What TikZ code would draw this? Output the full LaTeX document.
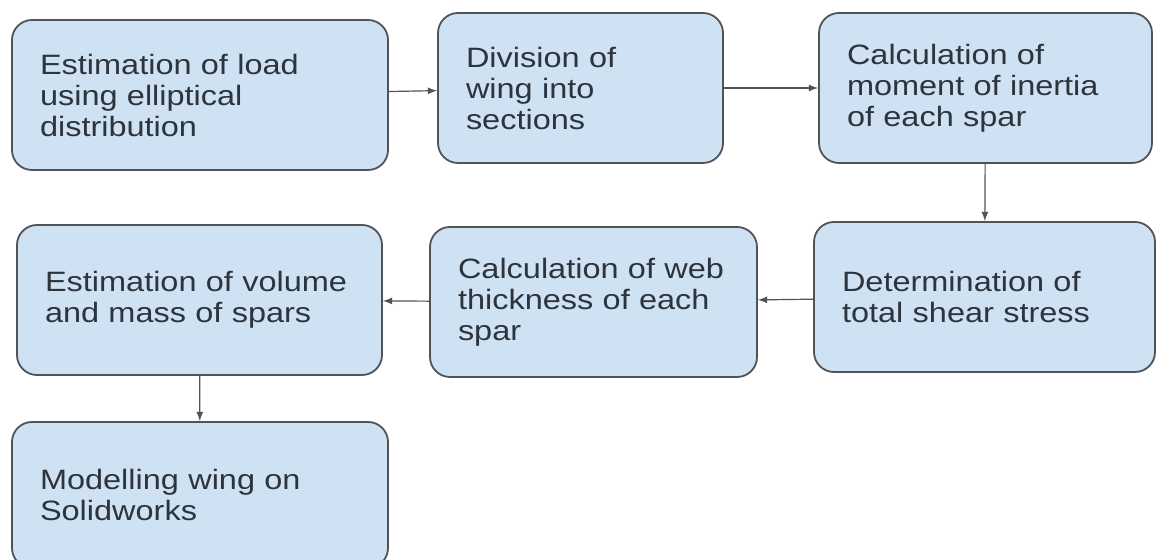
\documentclass[tikz,border=0pt]{standalone}
\usepackage{fontspec}
\usepackage{color}
\usepackage{tikz}
\usetikzlibrary{positioning}
\setmainfont{Liberation Sans}[FakeStretch=1.16]
\definecolor{boxfill}{RGB}{207,226,243}
\definecolor{boxline}{RGB}{80,84,88}
\definecolor{boxtext}{RGB}{45,52,60}

\begin{document}
\begin{tikzpicture}
    [
    x=0.5pt, y=-0.5pt,
    stepbox/.style={rectangle,rounded corners=10pt,draw=boxline,line width=0.9pt,fill=boxfill,
      text=boxtext,align=left,inner xsep=14pt,inner ysep=0pt,minimum height=75pt,
      font=\fontsize{14pt}{15.5pt}\selectfont},
    link/.style={-latex,draw=boxline,line width=0.6pt},
    ]
    \useasboundingbox [fill=white] (0,0) rectangle (1156,560);

    \node (load) at (200,95) [stepbox,text width=160pt]
      {Estimation of load\\using elliptical\\distribution};
    \node (sections) at (580.5,88) [stepbox,text width=114.5pt]
      {Division of\\wing into\\sections};
    \node (inertia) at (985.5,88) [stepbox,text width=138.5pt]
      {Calculation of\\moment of inertia\\of each spar};
    \node (shear) at (984.5,297) [stepbox,text width=142.5pt]
      {Determination of\\total shear stress};
    \node (web) at (593.5,302) [stepbox,text width=135.5pt]
      {Calculation of web\\thickness of each\\spar};
    \node (mass) at (199.5,300) [stepbox,text width=154.5pt]
      {Estimation of volume\\and mass of spars};
    \node (solid) at (200,495) [stepbox,text width=160pt,minimum height=73pt]
      {Modelling wing on\\Solidworks};

    \draw [link] (load) to (sections);
    \draw [link] (sections) to (inertia);
    \draw [link] (inertia) to (shear);
    \draw [link] (shear) to (web);
    \draw [link] (web) to (mass);
    \draw [link] (mass) to (solid);
  \end{tikzpicture}
\end{document}
